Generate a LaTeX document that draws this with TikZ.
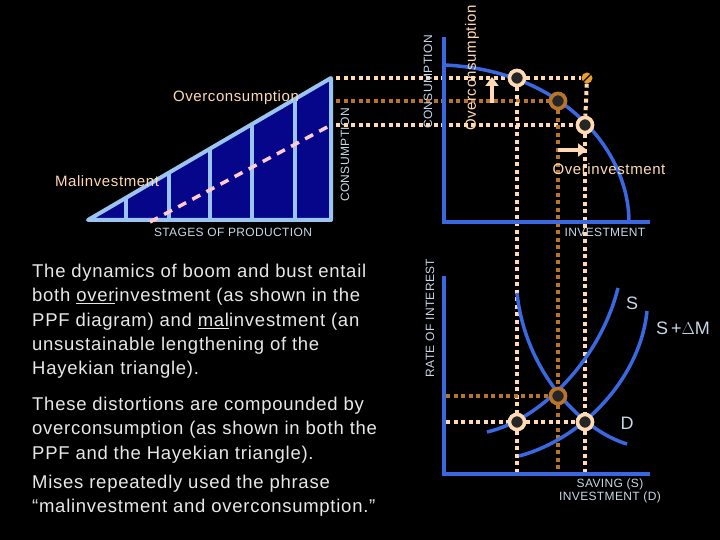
\documentclass[tikz,border=0pt]{standalone}
\usepackage{fontspec}
\setmainfont{Liberation Sans}
\usetikzlibrary{arrows.meta}
\definecolor{peach}{HTML}{FFDAB4}
\definecolor{brownd}{HTML}{B8742A}
\definecolor{orng}{HTML}{E8A030}
\definecolor{bluec}{HTML}{3A68E0}
\definecolor{lblue}{HTML}{9CC4F0}
\definecolor{navy}{HTML}{06068A}
\definecolor{txt}{HTML}{E8E8E8}
\definecolor{lab}{HTML}{C8D8E8}
\tikzset{
 dotl/.style={line width=4pt,dash pattern=on 4pt off 3.5pt},
 axis/.style={bluec,line width=3.5pt},
 curve/.style={bluec,line width=3.5pt},
 pt/.style={circle,draw=#1,fill=black!85,line width=3.5pt,minimum size=15pt,inner sep=0pt},
 small/.style={font=\fontsize{12}{13.5}\selectfont\addfontfeature{LetterSpace=3},lab},
 mid/.style={font=\fontsize{15}{17}\selectfont\addfontfeature{LetterSpace=4},peach},
 body/.style={font=\fontsize{18.5}{24.3}\selectfont\addfontfeature{LetterSpace=4},txt,align=left,anchor=north west,inner sep=0pt}
}
\begin{document}
\begin{tikzpicture}[x=1pt,y=-1pt]
\fill[black] (0,0) rectangle (720,540);
\useasboundingbox (0,0) rectangle (720,540);
% triangle
\fill[navy] (88,220) -- (331,78) -- (331,220) -- cycle;
\foreach \x in {126,169,210,252,295}{
 \pgfmathsetmacro\yy{220-(\x-88)*0.5844}
 \draw[lblue,line width=3.5pt] (\x,220) -- (\x,\yy);}
\draw[lblue,line width=4pt,line join=round] (88,220) -- (331,78) -- (331,220) -- cycle;
\draw[pink!80!white,line width=3.5pt,dash pattern=on 9pt off 7pt] (150,222) -- (331,125);
\node[mid] (ovc1) at (236,98) {Overconsumption};
\node[mid] (mal) at (107,181) {Malinvestment};
\node[small,rotate=90] (cons1) at (345,155) {CONSUMPTION};
\node[small] (stages) at (233,232) {STAGES OF PRODUCTION};
% PPF
\node[pt=peach] (a) at (517,78) {};
\node[pt=brownd] (b) at (558,101) {};
\node[pt=peach] (c) at (585,125) {};
\node[circle,fill=orng,minimum size=11pt,inner sep=0pt] (e) at (587,78) {};
\draw[black,line width=1.2pt] (e.north east) -- (e.south west);
% lower points
\node[pt=brownd] (f) at (558,396) {};
\node[pt=peach] (g) at (517,422) {};
\node[pt=peach] (h) at (585,422) {};
% dotted lines
\draw[dotl,peach] (336,78) -- (a) ; \draw[dotl,peach] (a) -- (e);
\draw[dotl,brownd] (336,101) -- (b);
\draw[dotl,peach] (336,125) -- (c);
\draw[dotl,peach] (a) -- (g); \draw[dotl,peach] (g) -- (517,472);
\draw[dotl,brownd] (b) -- (f); \draw[dotl,brownd] (f) -- (558,472);
\draw[dotl,peach] (e) -- (c); \draw[dotl,peach] (c) -- (h); \draw[dotl,peach] (h) -- (585,472);
\draw[dotl,brownd] (446,396) -- (f);
\draw[dotl,peach] (446,422) -- (g); \draw[dotl,peach] (g) -- (h);
% axes
\draw[axis] (444,37) -- (444,222) -- (650,222);
\draw[axis] (444,276) -- (444,474) -- (650,474);
\draw[curve] (444,65) .. controls (562,70) and (629,150) .. (629,222);
\draw[curve] (517,293) .. controls (525,370) and (580,430) .. (627,444);
\draw[curve] (487,432) .. controls (540,420) and (600,360) .. (618,288);
\draw[curve] (519,456) .. controls (580,440) and (640,380) .. (647,311);
% redraw points on top
\node[pt=peach] at (a) {}; \node[pt=brownd] at (b) {}; \node[pt=peach] at (c) {};
\node[pt=brownd] at (f) {}; \node[pt=peach] at (g) {}; \node[pt=peach] at (h) {};
% arrows
\coordinate (u1) at (492,103); \coordinate (u2) at (492,77);
\draw[peach,line width=4pt,-{Triangle[length=9pt,width=13pt]}] (u1) -- (u2);
\coordinate (r1) at (558,150); \coordinate (r2) at (587,150);
\draw[peach,line width=4pt,-{Triangle[length=9pt,width=13pt]}] (r1) -- (r2);
% labels
\node[mid,rotate=90] (ovc2) at (472,68) {Overconsumption};
\node[small,rotate=90] (cons2) at (428,82) {CONSUMPTION};
\node[mid] (ovi) at (609,169) {Overinvestment};
\node[small] (inv) at (605,232) {INVESTMENT};
\node[small,rotate=90] (roi) at (430,318) {RATE OF INTEREST};
\node[font=\fontsize{18}{20}\selectfont,lab] (S) at (632,303) {S};
\node[font=\fontsize{18}{20}\selectfont,lab] (SM) at (683,328) {S\,+$\Delta$M};
\node[font=\fontsize{18}{20}\selectfont,lab] (D) at (627,423) {D};
\node[small,align=center] (sav) at (610,491) {SAVING (S)\\INVESTMENT (D)};
% text
\node[body] (t1) at (32,264) {The dynamics of boom and bust entail\\both \underline{over}investment (as shown in the\\PPF diagram) and \underline{mal}investment (an\\unsustainable lengthening of the\\Hayekian triangle).};
\node[body] (t2) at (32,397) {These distortions are compounded by\\overconsumption (as shown in both the\\PPF and the Hayekian triangle).};
\node[body] (t3) at (32,475) {Mises repeatedly used the phrase\\“malinvestment and overconsumption.”};
\end{tikzpicture}
\end{document}
